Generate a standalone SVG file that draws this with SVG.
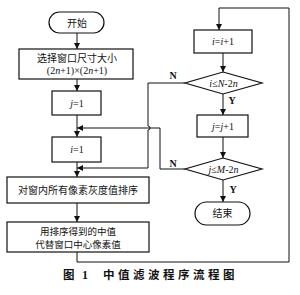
<svg xmlns="http://www.w3.org/2000/svg" width="300" height="295" viewBox="0 0 300 295">
<defs>
<marker id="ah" viewBox="0 0 8 8" refX="8" refY="4" markerWidth="6" markerHeight="6" markerUnits="userSpaceOnUse" orient="auto">
<path d="M0,0 L8,4 L0,8 Z" fill="#111"/>
</marker>
<style>
.box{fill:#fff;stroke:#111;stroke-width:1.2}
.ln{fill:none;stroke:#111;stroke-width:1}
.cn{font-family:"Noto Sans CJK SC","Noto Sans",sans-serif;font-size:10px;fill:#111;text-anchor:middle}
.ex{font-family:"Liberation Serif",serif;font-size:10px;fill:#111;text-anchor:middle}
.lb{font-family:"Liberation Serif",serif;font-size:10px;font-weight:bold;fill:#111;text-anchor:middle}
.it{font-style:italic}
</style>
</defs>
<rect width="300" height="295" fill="#fff"/>
<g id="connectors">
<path class="ln" d="M77,33 V49" marker-end="url(#ah)"/>
<path class="ln" d="M77,79 V91" marker-end="url(#ah)"/>
<path class="ln" d="M77,115 V137" marker-end="url(#ah)"/>
<path class="ln" d="M77,162 V177" marker-end="url(#ah)"/>
<path class="ln" d="M77,203 V222" marker-end="url(#ah)"/>
<path class="ln" d="M77,252 V262 H289 V8 H219 V30" marker-end="url(#ah)"/>
<path class="ln" d="M223,53 V72" marker-end="url(#ah)"/>
<path class="ln" d="M223,94 V115" marker-end="url(#ah)"/>
<path class="ln" d="M223,137 V158" marker-end="url(#ah)"/>
<path class="ln" d="M223,180 V202" marker-end="url(#ah)"/>
<path class="ln" d="M185,83 H148 V126 A2,2 0 0 1 148,130 V168 H77" marker-end="url(#ah)"/>
<path class="ln" d="M185,169 H160 V128 H77" marker-end="url(#ah)"/>
<text class="lb" x="173" y="79">N</text>
<text class="lb" x="232" y="104">Y</text>
<text class="lb" x="173" y="167">N</text>
<text class="lb" x="233" y="193">Y</text>
</g>
<g id="start">
<rect class="box" x="49" y="12" width="55" height="21" rx="10.5"/>
<text class="cn" x="77" y="26.5">开始</text>
</g>
<g id="select">
<rect class="box" x="19" y="49" width="114" height="30"/>
<text class="cn" x="77" y="62">选择窗口尺寸大小</text>
<text class="ex" x="77" y="74">(2<tspan class="it">n</tspan>+1)×(2<tspan class="it">n</tspan>+1)</text>
</g>
<g id="j1">
<rect class="box" x="52" y="91" width="49" height="24"/>
<text class="ex" x="77" y="106.5"><tspan class="it">j</tspan>=1</text>
</g>
<g id="i1">
<rect class="box" x="52" y="137" width="49" height="25"/>
<text class="ex" x="77" y="153"><tspan class="it">i</tspan>=1</text>
</g>
<g id="sort">
<rect class="box" x="7" y="177" width="142" height="26"/>
<text class="cn" x="78" y="194">对窗内所有像素灰度值排序</text>
</g>
<g id="replace">
<rect class="box" x="7" y="222" width="142" height="30"/>
<text class="cn" x="78" y="234.5" style="font-size:9.5px">用排序得到的中值</text>
<text class="cn" x="78" y="247.5" style="font-size:9.5px">代替窗口中心像素值</text>
</g>
<g id="iinc">
<rect class="box" x="194" y="30" width="58" height="23"/>
<text class="ex" x="223" y="45"><tspan class="it">i</tspan>=<tspan class="it">i</tspan>+1</text>
</g>
<g id="icond">
<polygon class="box" points="223,72 262,83 223,94 185,83"/>
<text class="ex" x="223.5" y="86.5"><tspan class="it">i</tspan>≤<tspan class="it">N</tspan>-2<tspan class="it">n</tspan></text>
</g>
<g id="jinc">
<rect class="box" x="197" y="115" width="51" height="22"/>
<text class="ex" x="223" y="129.5"><tspan class="it">j</tspan>=<tspan class="it">j</tspan>+1</text>
</g>
<g id="jcond">
<polygon class="box" points="223,158 262,169 223,180 185,169"/>
<text class="ex" x="223.5" y="172.5"><tspan class="it">j</tspan>≤<tspan class="it">M</tspan>-2<tspan class="it">n</tspan></text>
</g>
<g id="end">
<rect class="box" x="195" y="202" width="55" height="23" rx="11.5"/>
<text class="cn" x="222.5" y="217">结束</text>
</g>
<g id="caption">
<text font-family="'Noto Sans CJK SC',sans-serif" font-size="11.5" font-weight="bold" fill="#111" x="63" y="279">图</text>
<text font-family="'Liberation Serif',serif" font-size="12" font-weight="bold" fill="#111" x="82" y="279">1</text>
<text font-family="'Noto Sans CJK SC',sans-serif" font-size="11.5" font-weight="bold" fill="#111" x="103" y="279" letter-spacing="3.5">中值滤波程序流程图</text>
</g>
</svg>
